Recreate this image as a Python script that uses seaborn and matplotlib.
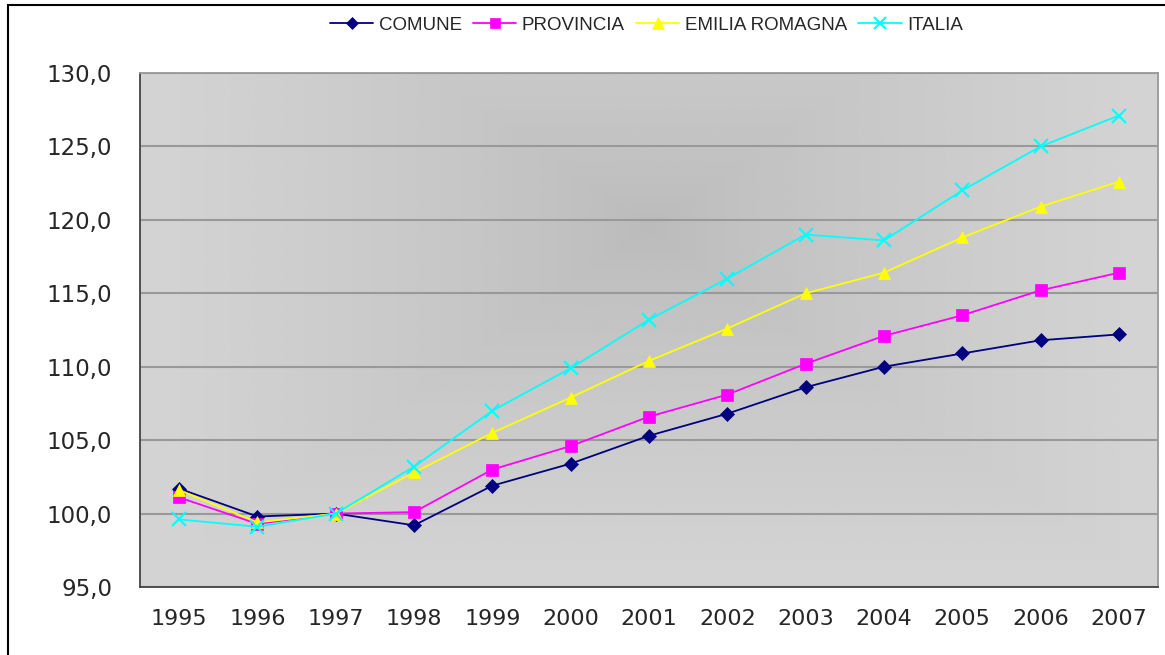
import numpy as np
import pandas as pd
import seaborn as sns
import matplotlib.pyplot as plt
from matplotlib.lines import Line2D
from matplotlib.patches import Rectangle

# Dati
anni = [1995, 1996, 1997, 1998, 1999, 2000, 2001, 2002, 2003, 2004, 2005, 2006, 2007]
comune = [101.7, 99.8, 100.0, 99.2, 101.9, 103.4, 105.3, 106.8, 108.6, 110.0, 110.9, 111.8, 112.2]
provincia = [101.1, 99.3, 100.0, 100.1, 103.0, 104.6, 106.6, 108.1, 110.2, 112.1, 113.5, 115.2, 116.4]
emilia = [101.6, 99.4, 100.0, 102.8, 105.5, 107.9, 110.4, 112.6, 115.0, 116.4, 118.8, 120.9, 122.6]
italia = [99.6, 99.1, 100.0, 103.2, 107.0, 109.9, 113.2, 116.0, 119.0, 118.6, 122.0, 125.0, 127.1]
serie = ["COMUNE", "PROVINCIA", "EMILIA ROMAGNA", "ITALIA"]
y_ticks = [95, 100, 105, 110, 115, 120, 125, 130]

colori = {"COMUNE": "#000080", "PROVINCIA": "#FF00FF",
          "EMILIA ROMAGNA": "#FFFF00", "ITALIA": "#00FFFF"}
marcatori = {"COMUNE": "D", "PROVINCIA": "s", "EMILIA ROMAGNA": "^", "ITALIA": "x"}
dim_marc = {"COMUNE": 7, "PROVINCIA": 8, "EMILIA ROMAGNA": 9, "ITALIA": 10}

df = pd.DataFrame({
    "anno": anni * 4,
    "valore": comune + provincia + emilia + italia,
    "serie": [s for s in serie for _ in anni],
})

sns.set_style("white")
plt.rcParams['font.family'] = ['DejaVu Sans']

fig = plt.figure(figsize=(11.65, 6.55), dpi=100)
ax = fig.add_axes([140 / 1165, 1 - 587 / 655, 1018 / 1165, 514 / 655])

# Sfondo sfumato (grigio, più scuro al centro)
gx, gy = np.meshgrid(np.linspace(0, 1, 300), np.linspace(0, 1, 200))
d = np.maximum(np.abs(gx - 0.5) / 0.5, np.abs(gy - 0.7) / 0.7)
d = np.clip(d, 0, 1) ** 0.75
grad = 0.73 + (0.83 - 0.73) * d
ax.imshow(grad, cmap="gray", vmin=0, vmax=1, origin="lower",
          extent=[1994.5, 2007.5, 95, 130], aspect="auto", zorder=0,
          interpolation="bilinear")

# Linee
for s in serie:
    sub = df[df["serie"] == s]
    sns.lineplot(data=sub, x="anno", y="valore", ax=ax, color=colori[s],
                 marker=marcatori[s], markersize=dim_marc[s],
                 markeredgecolor=colori[s], markeredgewidth=1.5 if s == "ITALIA" else 0.5,
                 linewidth=1.3, zorder=3, legend=False)

ax.set_xlim(1994.5, 2007.5)
ax.set_ylim(95, 130)
ax.set_yticks(y_ticks)
ax.set_yticklabels([f"{v:.1f}".replace(".", ",") for v in y_ticks], fontsize=16.5)
ax.set_xticks([a - 0.5 for a in anni] + [2007.5])
ax.set_xticklabels([])
ax.set_xticks(anni, minor=True)
ax.set_xticklabels([str(a) for a in anni], minor=True, fontsize=16)
ax.tick_params(axis="x", which="minor", length=0, pad=16)
ax.tick_params(axis="x", which="major", length=8, width=1.2, color="#333333", direction="out")
ax.tick_params(axis="y", length=8, width=1.2, color="#333333", direction="out", pad=12)
ax.set_xlabel("")
ax.set_ylabel("")

ax.grid(axis="y", color="#999999", linewidth=1.5, zorder=1)
ax.set_axisbelow(True)
for lato in ["left", "bottom"]:
    ax.spines[lato].set_color("#444444")
    ax.spines[lato].set_linewidth(1.3)
for lato in ["top", "right"]:
    ax.spines[lato].set_color("#999999")
    ax.spines[lato].set_linewidth(1.3)

# Legenda
handles = [Line2D([], [], color=colori[s], marker=marcatori[s],
                  markersize=dim_marc[s] - 1, linewidth=1.3,
                  markeredgewidth=1.5 if s == "ITALIA" else 0.5) for s in serie]
fig.legend(handles, serie, loc="center", bbox_to_anchor=(0.555, 1 - 25 / 655),
           ncol=4, frameon=False, handlelength=2.3,
           columnspacing=0.6, handletextpad=0.3,
           prop={"family": ["Liberation Sans", "DejaVu Sans"], "size": 13.5})

# Cornice esterna
fig.patches.append(Rectangle((8 / 1165, -0.1), 1.2, 1 - 5 / 655 + 0.1,
                             transform=fig.transFigure, fill=False,
                             edgecolor="black", linewidth=1.5))

fig.savefig("out.png", dpi=100)
